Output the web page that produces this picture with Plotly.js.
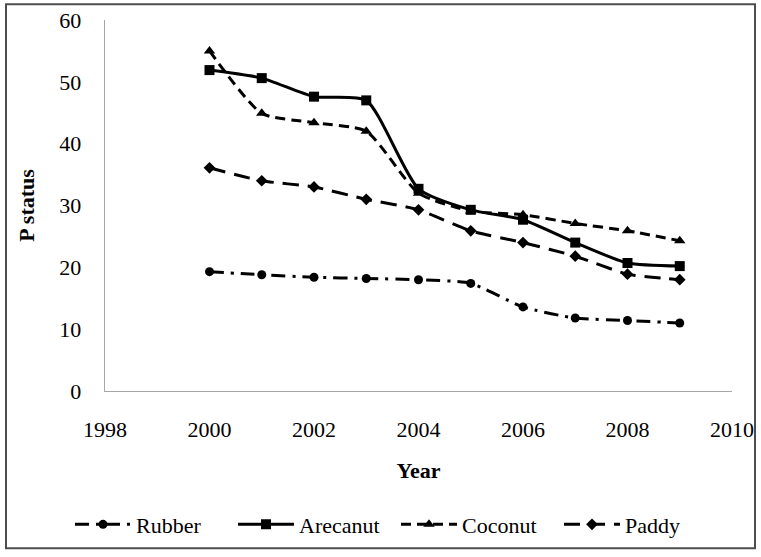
<!DOCTYPE html>
<html>
<head>
<meta charset="utf-8">
<script src="https://cdn.plot.ly/plotly-3.0.1.min.js"></script>
<style>html,body{margin:0;padding:0;background:#fff;overflow:hidden;}#chart{width:761px;height:557px;}</style>
</head>
<body>
<div id="chart"></div>
<script>
const years = [2000, 2001, 2002, 2003, 2004, 2005, 2006, 2007, 2008, 2009];
const rubber = [19.3, 18.8, 18.4, 18.2, 18.0, 17.4, 13.6, 11.8, 11.4, 11.0];
const arecanut = [51.9, 50.6, 47.6, 47.0, 32.7, 29.3, 27.7, 24.0, 20.7, 20.2];
const coconut = [55.0, 44.9, 43.4, 42.0, 32.0, 29.1, 28.5, 27.1, 25.9, 24.3];
const paddy = [36.1, 34.0, 33.0, 31.0, 29.3, 25.9, 24.0, 21.8, 18.9, 18.0];
const seriesNames = ["Rubber", "Arecanut", "Coconut", "Paddy"];
const xTicks = [1998, 2000, 2002, 2004, 2006, 2008, 2010];
const yTicks = [0, 10, 20, 30, 40, 50, 60];

const FONT = "'Liberation Serif', 'Times New Roman', Times, serif";
const styles = [
  {dash: "14px,7px,3px,7px", symbol: "circle", size: 9},
  {dash: "solid", symbol: "square", size: 10},
  {dash: "10px,6px", symbol: "triangle-up", size: 10},
  {dash: "16px,9px", symbol: "diamond", size: 9}
];
const values = [rubber, arecanut, coconut, paddy];

const traces = seriesNames.map((n, i) => ({
  x: years, y: values[i], name: n, type: "scatter", mode: "lines+markers",
  line: {color: "#000", width: 3, dash: styles[i].dash, shape: "spline", smoothing: 0.6},
  marker: {color: "#000", symbol: styles[i].symbol, size: styles[i].size}
}));

const L = 105, R = 29, T = 20, B = 162, W = 761, H = 557;
const pw = W - L - R, ph = H - T - B;
const px = v => (v - L) / pw;
const py = v => (H - B - v) / ph;
const tf = {family: FONT, size: 22, color: "#000"};

const layout = {
  width: W, height: H,
  margin: {l: L, r: R, t: T, b: B},
  paper_bgcolor: "#fff", plot_bgcolor: "#fff",
  font: tf,
  showlegend: true,
  xaxis: {
    range: [1998, 2010], tickvals: xTicks, ticktext: xTicks.map(String),
    showgrid: false, zeroline: false, showline: true, linecolor: "#a6a6a6", linewidth: 1.3,
    ticks: "", ticklabelstandoff: 18, tickfont: tf,
    title: {text: "<b>Year</b>", font: tf, standoff: 22},
    automargin: false
  },
  yaxis: {
    range: [0, 60], tickvals: yTicks, ticktext: yTicks.map(String),
    showgrid: false, zeroline: false, showline: true, linecolor: "#a6a6a6", linewidth: 1.3,
    ticks: "", ticklabelstandoff: 18, tickfont: tf,
    title: {text: "<b>P status</b>", font: tf, standoff: 18},
    automargin: false
  },
  legend: {
    orientation: "h", x: px(70), xanchor: "left", y: py(530), yanchor: "middle",
    font: tf, itemwidth: 56, entrywidth: 92, entrywidthmode: "pixels",
    bgcolor: "rgba(0,0,0,0)"
  },
  shapes: [{
    type: "rect", xref: "paper", yref: "paper",
    x0: px(6), x1: px(755), y0: py(554), y1: py(4),
    line: {color: "#4d4d4d", width: 2}, fillcolor: "rgba(0,0,0,0)", layer: "below"
  }]
};

Plotly.newPlot("chart", traces, layout, {staticPlot: true, displayModeBar: false});
</script>
</body>
</html>
